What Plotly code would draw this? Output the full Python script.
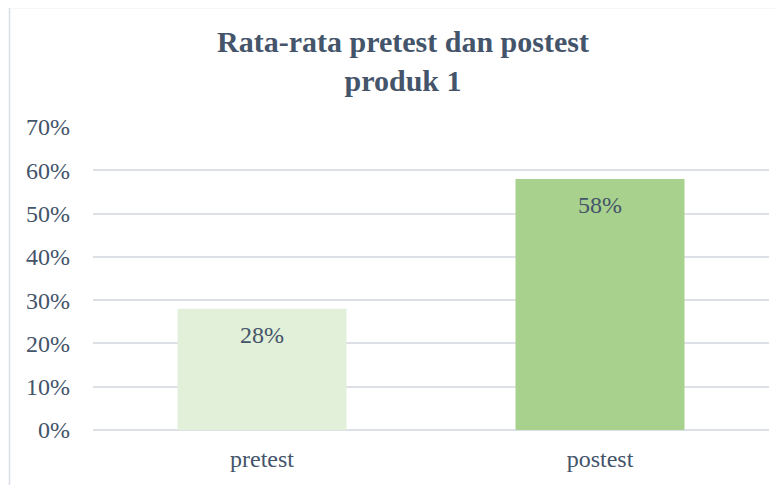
import plotly.graph_objects as go

categories = ["pretest", "postest"]
values = [0.28, 0.58]
bar_colors = ["#E2EFD9", "#A9D18E"]
tick_vals = [0, 0.1, 0.2, 0.3, 0.4, 0.5, 0.6, 0.7]
tick_text = ["0%", "10%", "20%", "30%", "40%", "50%", "60%", "70%"]
title_text = "<b>Rata-rata pretest dan postest<br>produk 1</b>"

W, H = 783, 485
OFF = 8  # default page body margin
ML, MR, MT, MB = 93 - OFF, 14 + OFF, 127 - OFF, 55 + OFF
pw = W - ML - MR
ph = H - MT - MB

text_color = "#44546A"
font_family = "Times New Roman, Liberation Serif, Tinos, DejaVu Serif, serif"

fig = go.Figure()
fig.add_trace(go.Bar(
    x=categories,
    y=values,
    marker=dict(color=bar_colors, line=dict(width=0)),
    hoverinfo="skip",
))

for c, v in zip(categories, values):
    fig.add_annotation(
        x=c, y=v, xref="x", yref="y",
        text=f"{round(v * 100)}%",
        showarrow=False, yanchor="top", yshift=-11,
        font=dict(family=font_family, size=24, color=text_color),
    )

def px_to_paper_x(p):
    return (p - OFF - ML) / pw

def px_to_paper_y(p):
    return (H - MB - (p - OFF)) / ph

fig.add_shape(
    type="rect", xref="paper", yref="paper",
    x0=px_to_paper_x(9.5), x1=px_to_paper_x(810),
    y0=px_to_paper_y(500), y1=px_to_paper_y(7.5),
    line=dict(color="#D9DEE5", width=1.5),
    fillcolor="rgba(0,0,0,0)", layer="below",
)

fig.update_layout(
    width=W, height=H,
    margin=dict(l=ML, r=MR, t=MT, b=MB, pad=0),
    paper_bgcolor="white", plot_bgcolor="white",
    showlegend=False,
    bargap=0.5,
    title=dict(
        text=title_text,
        x=(403 - OFF) / W, xref="container", xanchor="center",
        y=1 - (52 - OFF) / H, yref="container", yanchor="top",
        font=dict(family=font_family, size=30, color=text_color),
    ),
    font=dict(family=font_family, color=text_color),
)

fig.update_xaxes(
    showgrid=False, showline=False, zeroline=False,
    ticks="", ticklabelstandoff=12,
    tickfont=dict(family=font_family, size=24, color=text_color),
)
fig.update_yaxes(
    range=[0, 0.7],
    tickvals=tick_vals, ticktext=tick_text,
    showgrid=True, gridcolor="#DDE1E7", gridwidth=1.5,
    zeroline=True, zerolinecolor="#DDE1E7", zerolinewidth=1.5,
    showline=False, ticks="", ticklabelstandoff=22,
    tickfont=dict(family=font_family, size=24, color=text_color),
)

fig.write_html("out.html")
